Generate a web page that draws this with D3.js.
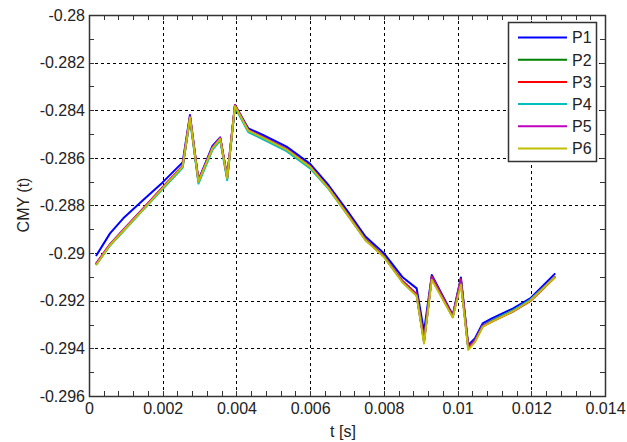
<!DOCTYPE html>
<html>
<head>
<meta charset="utf-8">
<script src="https://cdn.jsdelivr.net/npm/d3@7"></script>
<style>
  body { margin: 0; background: #fff; }
  svg { font-family: Arial, "Liberation Sans", sans-serif; }
</style>
</head>
<body>
<div id="chart"></div>
<script>
// time samples [s]
const time = [0.00019, 0.00057, 0.00093, 0.00147, 0.00199, 0.00254, 0.00274, 0.00297, 0.00335, 0.00356,
  0.00375, 0.00396, 0.00432, 0.00472, 0.00536, 0.0060, 0.0065, 0.0070, 0.0075, 0.0080,
  0.0085, 0.00889, 0.00909, 0.0093, 0.00987, 0.01009, 0.01029, 0.01047, 0.01068, 0.01093,
  0.01151, 0.01197, 0.01265];

const p1 = [-0.29012, -0.28917, -0.28854, -0.28777, -0.28704, -0.28619, -0.28420, -0.28693, -0.28550, -0.28514,
  -0.28679, -0.28378, -0.28476, -0.28504, -0.28553, -0.28625, -0.28715, -0.28820, -0.28930, -0.29000,
  -0.29100, -0.29148, -0.29330, -0.29092, -0.29260, -0.29102, -0.29386, -0.29358, -0.29295, -0.29274,
  -0.29232, -0.29190, -0.29085];
const p2 = [-0.29048, -0.28966, -0.28906, -0.28815, -0.28728, -0.28637, -0.28432, -0.28700, -0.28562, -0.28522,
  -0.28686, -0.28384, -0.28486, -0.28516, -0.28566, -0.28638, -0.28726, -0.28832, -0.28942, -0.29012,
  -0.29118, -0.29175, -0.29368, -0.29100, -0.29266, -0.29112, -0.29398, -0.29368, -0.29306, -0.29283,
  -0.29240, -0.29198, -0.29098];
const p3 = [-0.29046, -0.28964, -0.28904, -0.28813, -0.28726, -0.28635, -0.28430, -0.28698, -0.28558, -0.28518,
  -0.28684, -0.28380, -0.28484, -0.28514, -0.28564, -0.28636, -0.28726, -0.28832, -0.28942, -0.29012,
  -0.29116, -0.29172, -0.29366, -0.29098, -0.29264, -0.29110, -0.29396, -0.29368, -0.29308, -0.29288,
  -0.29245, -0.29202, -0.29100];
const p4 = [-0.29050, -0.28968, -0.28908, -0.28818, -0.28732, -0.28642, -0.28436, -0.28708, -0.28566, -0.28526,
  -0.28694, -0.28386, -0.28492, -0.28522, -0.28572, -0.28644, -0.28730, -0.28836, -0.28944, -0.29014,
  -0.29120, -0.29178, -0.29372, -0.29104, -0.29268, -0.29116, -0.29400, -0.29370, -0.29306, -0.29284,
  -0.29240, -0.29196, -0.29098];
const p5 = [-0.29044, -0.28962, -0.28902, -0.28812, -0.28724, -0.28634, -0.28426, -0.28696, -0.28556, -0.28516,
  -0.28682, -0.28378, -0.28482, -0.28512, -0.28562, -0.28636, -0.28726, -0.28834, -0.28944, -0.29014,
  -0.29118, -0.29176, -0.29370, -0.29102, -0.29266, -0.29114, -0.29398, -0.29368, -0.29306, -0.29286,
  -0.29244, -0.29200, -0.29098];
const p6 = [-0.29050, -0.28966, -0.28906, -0.28816, -0.28728, -0.28637, -0.28430, -0.28700, -0.28560, -0.28520,
  -0.28685, -0.28382, -0.28485, -0.28515, -0.28565, -0.28638, -0.28728, -0.28836, -0.28946, -0.29016,
  -0.29122, -0.29180, -0.29380, -0.29112, -0.29270, -0.29132, -0.29406, -0.29374, -0.29310, -0.29288,
  -0.29244, -0.29200, -0.29100];

const seriesNames = ["P1", "P2", "P3", "P4", "P5", "P6"];
const seriesValues = [p1, p2, p3, p4, p5, p6];
const seriesColors = ["#0000ff", "#008000", "#ff0000", "#00bfbf", "#bf00bf", "#bfbf00"];

const xTicks = [0, 0.002, 0.004, 0.006, 0.008, 0.01, 0.012, 0.014];
const yTicks = [-0.28, -0.282, -0.284, -0.286, -0.288, -0.29, -0.292, -0.294, -0.296];

const width = 627, height = 442;
const margin = { left: 89, right: 22, top: 15, bottom: 46 };

const svg = d3.select("#chart").append("svg")
  .attr("width", width)
  .attr("height", height);

const x = d3.scaleLinear().domain([0, 0.014]).range([margin.left, width - margin.right]);
const y = d3.scaleLinear().domain([-0.296, -0.28]).range([height - margin.bottom, margin.top]);

const fmt = d => d === 0 ? "0" : String(+d.toFixed(3));

// grid
const grid = svg.append("g").attr("stroke", "#000").attr("stroke-width", 1)
  .attr("stroke-dasharray", "3,3").attr("shape-rendering", "crispEdges");
grid.selectAll(".gx").data(xTicks.slice(1, -1)).enter().append("line")
  .attr("x1", d => Math.round(x(d)) + 0.5).attr("x2", d => Math.round(x(d)) + 0.5)
  .attr("y1", y.range()[1]).attr("y2", y.range()[0]);
grid.selectAll(".gy").data(yTicks.slice(1, -1)).enter().append("line")
  .attr("y1", d => Math.round(y(d)) + 0.5).attr("y2", d => Math.round(y(d)) + 0.5)
  .attr("x1", x.range()[0]).attr("x2", x.range()[1]);

// minor + major ticks on all four sides (inside)
const xMinor = d3.range(0, 0.0140001, 0.0004);
const yMinor = d3.range(-0.296, -0.2799999, 0.001);
const tk = svg.append("g").attr("stroke", "#333").attr("stroke-width", 1).attr("shape-rendering", "crispEdges");
[y.range()[0], y.range()[1]].forEach((yy, i) => {
  const dir = i === 0 ? -1 : 1;
  tk.selectAll(null).data(xMinor).enter().append("line")
    .attr("x1", d => Math.round(x(d)) + 0.5).attr("x2", d => Math.round(x(d)) + 0.5)
    .attr("y1", yy).attr("y2", yy + dir * 5);
});
[x.range()[0], x.range()[1]].forEach((xx, i) => {
  const dir = i === 0 ? 1 : -1;
  tk.selectAll(null).data(yMinor).enter().append("line")
    .attr("y1", d => Math.round(y(d)) + 0.5).attr("y2", d => Math.round(y(d)) + 0.5)
    .attr("x1", xx).attr("x2", xx + dir * 5);
});

// axes labels via d3 axes (no domain / tick lines)
const xAxis = svg.append("g")
  .attr("transform", `translate(0,${y.range()[0]})`)
  .call(d3.axisBottom(x).tickValues(xTicks).tickFormat(fmt).tickSize(0).tickPadding(7));
const yAxis = svg.append("g")
  .attr("transform", `translate(${x.range()[0]},0)`)
  .call(d3.axisLeft(y).tickValues(yTicks).tickFormat(fmt).tickSize(0).tickPadding(4));
[xAxis, yAxis].forEach(a => {
  a.select(".domain").remove();
  a.selectAll("text").attr("font-size", 16).attr("fill", "#222")
    .attr("font-family", "Arial, 'Liberation Sans', sans-serif");
});

// series
const line = d3.line().x(d => x(d[0])).y(d => y(d[1]));
seriesValues.forEach((vals, i) => {
  svg.append("path")
    .datum(time.map((t, k) => [t, vals[k]]))
    .attr("fill", "none")
    .attr("stroke", seriesColors[i])
    .attr("stroke-width", 2)
    .attr("stroke-linejoin", "round")
    .attr("d", line);
});

// frame
svg.append("rect")
  .attr("x", x.range()[0] + 0.5).attr("y", y.range()[1] + 0.5)
  .attr("width", x.range()[1] - x.range()[0]).attr("height", y.range()[0] - y.range()[1])
  .attr("fill", "none").attr("stroke", "#333").attr("stroke-width", 1.5);

// axis titles
svg.append("text")
  .attr("x", 343).attr("y", 437)
  .attr("text-anchor", "middle").attr("font-size", 16).attr("fill", "#222")
  .text("t [s]");
svg.append("text")
  .attr("transform", "translate(28.5,205) rotate(-90)")
  .attr("text-anchor", "middle").attr("font-size", 16).attr("fill", "#222")
  .text("CMY (t)");

// legend
const lg = svg.append("g");
lg.append("rect")
  .attr("x", 508.5).attr("y", 22.5).attr("width", 88).attr("height", 139)
  .attr("fill", "#fff").attr("stroke", "#333").attr("stroke-width", 1.5);
seriesNames.forEach((name, i) => {
  const yy = 37.5 + i * 22.2;
  lg.append("line")
    .attr("x1", 518).attr("x2", 567).attr("y1", yy).attr("y2", yy)
    .attr("stroke", seriesColors[i]).attr("stroke-width", 2);
  lg.append("text")
    .attr("x", 572).attr("y", yy + 5.8)
    .attr("font-size", 16).attr("fill", "#222")
    .text(name);
});
</script>
</body>
</html>
